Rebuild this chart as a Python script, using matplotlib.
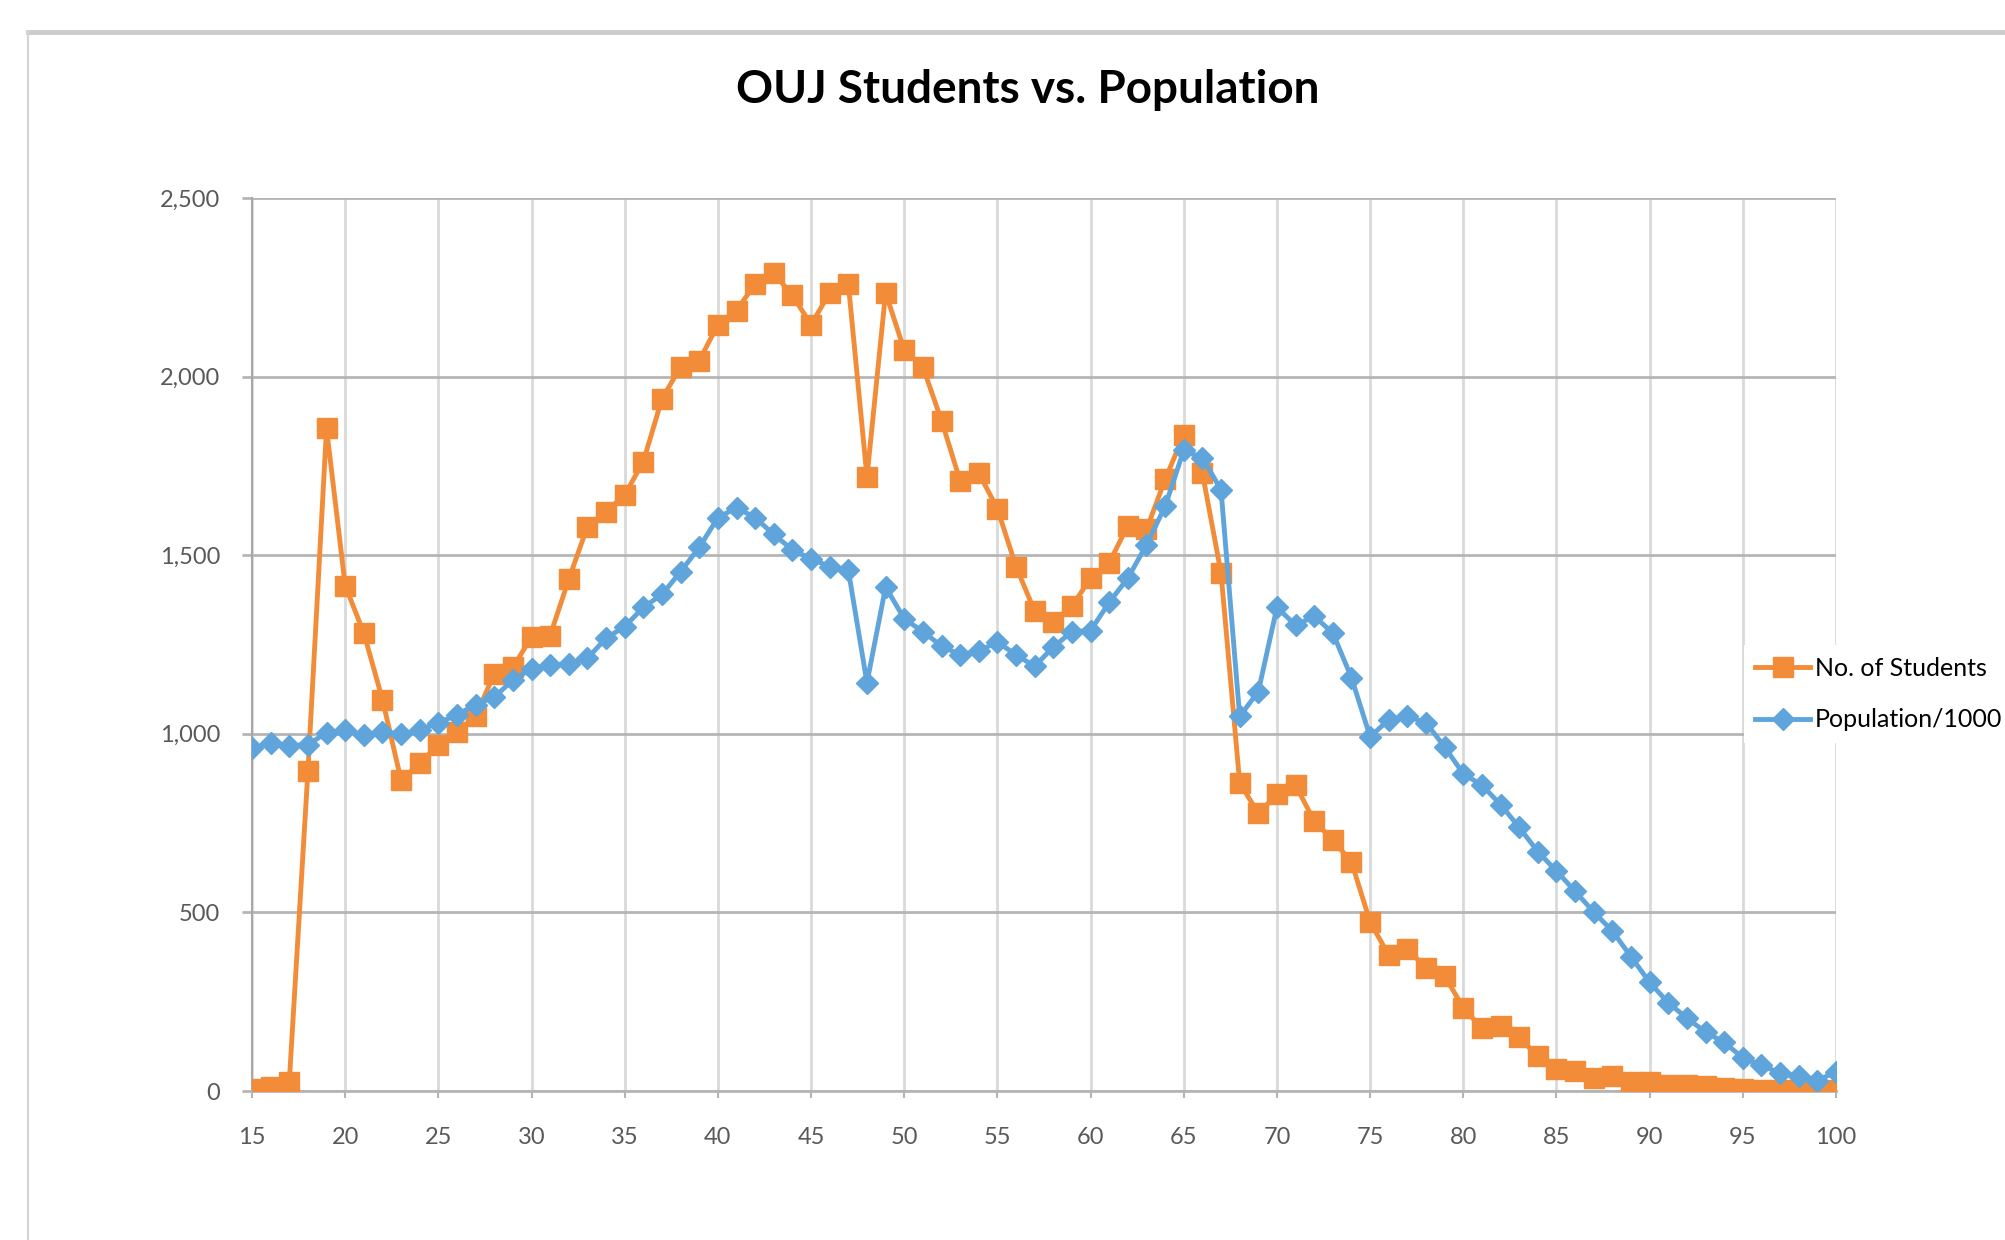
import numpy as np
import matplotlib.pyplot as plt
from matplotlib.lines import Line2D

############## - Data - #####################################
ages = list(range(15, 101))

students = [5, 10, 25, 895, 1855, 1415, 1282, 1096, 870, 917,
            970, 1006, 1049, 1168, 1186, 1271, 1275, 1433, 1580, 1622,
            1669, 1762, 1938, 2027, 2045, 2145, 2185, 2260, 2289, 2228,
            2145, 2235, 2260, 1719, 2235, 2074, 2027, 1877, 1708, 1730,
            1630, 1468, 1343, 1314, 1357, 1436, 1479, 1583, 1572, 1712,
            1837, 1730, 1450, 863, 777, 831, 856, 756, 702, 641,
            473, 380, 398, 344, 322, 233, 175, 183, 150, 97,
            61, 55, 36, 43, 25, 25, 18, 18, 14, 7,
            5, 4, 3, 3, 2, 2]

population = [960, 974, 967, 970, 1003, 1010, 996, 1006, 999, 1010,
              1031, 1053, 1082, 1103, 1150, 1182, 1193, 1196, 1211, 1268,
              1300, 1354, 1390, 1454, 1522, 1605, 1633, 1605, 1558, 1515,
              1490, 1468, 1458, 1143, 1411, 1322, 1286, 1246, 1221, 1232,
              1257, 1221, 1189, 1243, 1286, 1289, 1368, 1436, 1529, 1637,
              1794, 1773, 1683, 1049, 1118, 1354, 1304, 1329, 1282, 1157,
              992, 1039, 1049, 1031, 963, 888, 856, 802, 738, 670,
              616, 559, 501, 448, 376, 304, 247, 204, 165, 136,
              93, 72, 50, 43, 29, 54]

x_ticks = list(range(15, 101, 5))
y_ticks = [0, 500, 1000, 1500, 2000, 2500]

title = 'OUJ Students vs. Population'
label_students = 'No. of Students'
label_population = 'Population/1000'

############## - Style - ##################
plt.rcParams['font.family'] = ['Lato', 'DejaVu Sans']
orange = '#F28C38'
blue = '#5FA5DB'
text_gray = '#595959'

W, H = 2006, 1240
fig = plt.figure(figsize=(W / 100, H / 100), dpi=100)

# card border (top and left edges only visible)
fig.add_artist(Line2D([28 / W, 1], [1 - 32 / H, 1 - 32 / H], transform=fig.transFigure,
                      color='#cccccc', lw=3.5))
fig.add_artist(Line2D([28 / W, 28 / W], [0, 1 - 32 / H], transform=fig.transFigure,
                      color='#d4d4d4', lw=1.5))

ax = fig.add_axes([252 / W, 1 - 1091 / H, (1836 - 252) / W, (1091 - 198) / H])

ax.plot(ages, students, color=orange, lw=3.5, marker='s', markersize=15,
        label=label_students, zorder=3)
ax.plot(ages, population, color=blue, lw=3.5, marker='D', markersize=11,
        label=label_population, zorder=4)

ax.set_xlim(15, 100)
ax.set_ylim(0, 2500)
ax.set_xticks(x_ticks)
ax.set_yticks(y_ticks)
ax.set_yticklabels(['{:,}'.format(v) for v in y_ticks])

ax.grid(axis='y', color='#b5b5b5', lw=2)
ax.grid(axis='x', color='#d9d9d9', lw=2)
ax.set_axisbelow(True)
for side in ['top', 'right']:
    ax.spines[side].set_visible(False)
ax.spines['left'].set_color('#a8a8a8')
ax.spines['left'].set_linewidth(1.5)
ax.spines['bottom'].set_color('#b5b5b5')
ax.spines['bottom'].set_linewidth(2)

ax.tick_params(axis='x', length=5, width=1.5, color='#b5b5b5', pad=21,
               labelsize=17, labelcolor=text_gray)
ax.tick_params(axis='y', length=7, width=2, color='#b5b5b5', pad=16,
               labelsize=17, labelcolor=text_gray)

fig.text(1028 / W, 1 - 90 / H, title, ha='center', va='center',
         fontsize=33, fontweight='bold', color='black')

leg = fig.legend(loc='center left', bbox_to_anchor=(1744 / W, 1 - 694 / H),
                 frameon=True, fancybox=False, edgecolor='none', facecolor='white',
                 framealpha=1, fontsize=18, labelcolor='black', handlelength=2.2,
                 handletextpad=0.2, labelspacing=1.15, borderpad=0.45, borderaxespad=0)

plt.savefig('out.png', dpi=100)
